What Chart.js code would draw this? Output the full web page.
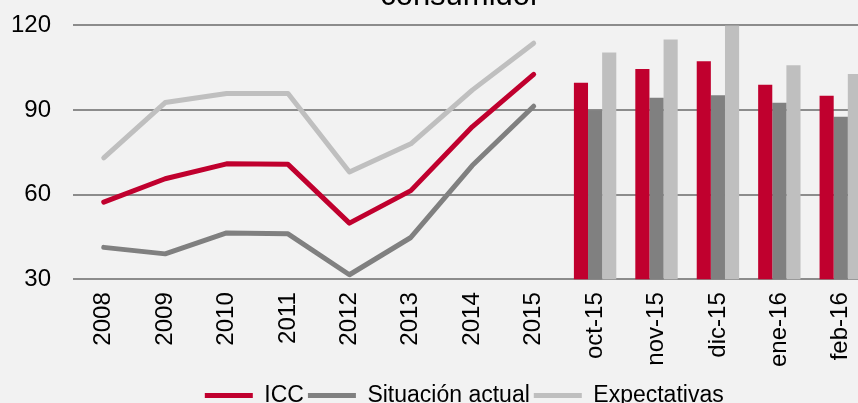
<!DOCTYPE html>
<html>
<head>
<meta charset="utf-8">
<script src="https://cdn.jsdelivr.net/npm/chart.js@4/dist/chart.umd.min.js"></script>
<style>
  html, body { margin: 0; padding: 0; background: #f2f2f2; overflow: hidden; width: 858px; height: 403px; }
  #myChart { position: absolute; left: -24px; top: -22px; }
</style>
</head>
<body>
<canvas id="myChart" width="907" height="441"></canvas>
<script>
const years = ['2008', '2009', '2010', '2011', '2012', '2013', '2014', '2015'];
const months = ['oct-15', 'nov-15', 'dic-15', 'ene-16', 'feb-16'];

const iccYears = [57.3, 65.6, 70.9, 70.7, 49.9, 61.4, 84.0, 102.6];
const actualYears = [41.3, 39.0, 46.4, 46.1, 31.6, 44.8, 70.3, 91.3];
const expectYears = [73.0, 92.6, 95.8, 95.8, 68.0, 78.0, 97.0, 113.6];

const iccMonths = [99.6, 104.5, 107.2, 98.9, 95.0];
const actualMonths = [89.9, 94.3, 95.2, 92.5, 87.6];
const expectMonths = [110.3, 114.9, 119.9, 105.8, 102.7];

const yTicks = [30, 60, 90, 120];

const seriesNames = ['ICC', 'Situación actual', 'Expectativas'];
const colors = ['#c0002e', '#808080', '#bfbfbf'];

const labels = years.concat(months);
const padYears = years.map(() => null);
const padMonths = months.map(() => null);

const lineSet = (i, data) => ({
  type: 'line',
  label: seriesNames[i],
  data: data.concat(padMonths),
  borderColor: colors[i],
  backgroundColor: colors[i],
  borderWidth: 5,
  borderCapStyle: 'round',
  borderJoinStyle: 'round',
  pointRadius: 0,
  pointStyle: 'line'
});

const barSet = (i, data) => ({
  type: 'bar',
  label: seriesNames[i],
  data: padYears.concat(data),
  backgroundColor: colors[i],
  borderWidth: 0,
  categoryPercentage: 0.69,
  barPercentage: 1
});

// legend and title sit a bit left of the plot centre in the original
const shiftBoxes = {
  id: 'shiftBoxes',
  afterLayout(chart) {
    chart.legend.left -= 8;
    chart.legend.right -= 8;
    chart.titleBlock.left -= 12;
    chart.titleBlock.right -= 12;
  }
};

const ctx = document.getElementById('myChart').getContext('2d');
let myChart = new Chart(ctx, {
  type: 'bar',
  data: {
    labels: labels,
    datasets: [
      lineSet(0, iccYears),
      lineSet(1, actualYears),
      lineSet(2, expectYears),
      barSet(0, iccMonths),
      barSet(1, actualMonths),
      barSet(2, expectMonths)
    ]
  },
  plugins: [shiftBoxes],
  options: {
    responsive: false,
    devicePixelRatio: 1,
    animation: false,
    layout: { padding: { left: 13, right: 0, top: 0, bottom: 2 } },
    plugins: {
      title: {
        display: true,
        fullSize: false,
        text: 'consumidor',
        color: '#000',
        font: { family: 'Liberation Sans', size: 31, weight: 'normal' },
        padding: { top: 0, bottom: 10 }
      },
      legend: {
        position: 'bottom',
        fullSize: false,
        labels: {
          filter: item => item.datasetIndex < 3,
          usePointStyle: true,
          pointStyleWidth: 48,
          padding: 4,
          color: '#000',
          font: { family: 'Liberation Sans', size: 23 }
        }
      },
      tooltip: { enabled: false }
    },
    scales: {
      x: {
        grid: { display: false, drawTicks: false },
        border: { display: false },
        ticks: {
          color: '#000',
          font: { family: 'Liberation Sans', size: 24 },
          minRotation: 90,
          maxRotation: 90,
          padding: 13
        }
      },
      y: {
        min: 30,
        max: 120,
        afterBuildTicks: axis => { axis.ticks = yTicks.map(v => ({ value: v })); },
        grid: { color: '#8c8c8c', lineWidth: 2, drawTicks: false },
        border: { display: false },
        ticks: {
          color: '#000',
          font: { family: 'Liberation Sans', size: 24 },
          padding: 22
        }
      }
    }
  }
});
</script>
</body>
</html>
